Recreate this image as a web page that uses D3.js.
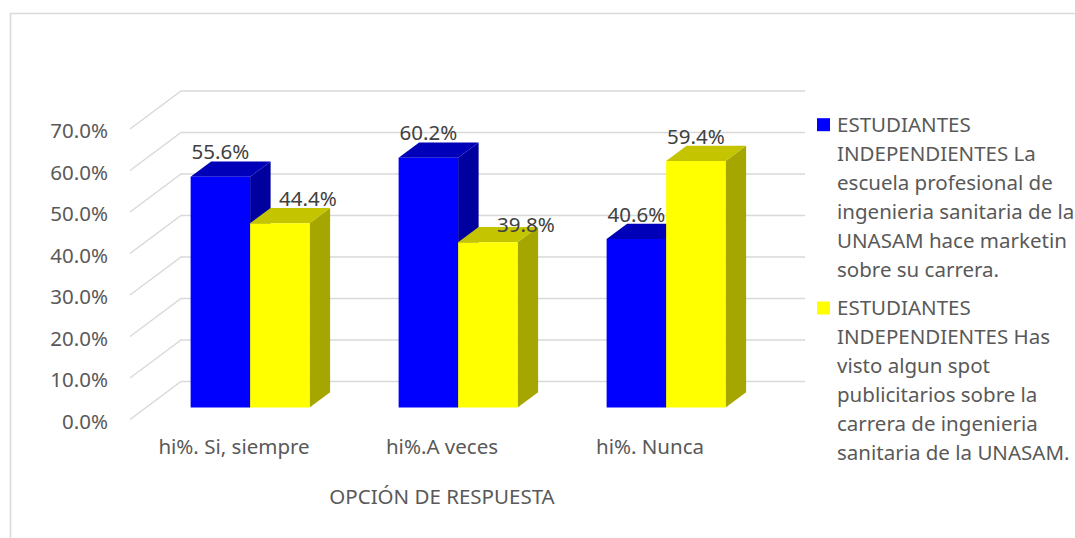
<!DOCTYPE html>
<html>
<head>
<meta charset="utf-8">
<script src="https://cdn.jsdelivr.net/npm/d3@7"></script>
<style>
  html, body { margin: 0; padding: 0; background: #fff; }
  svg { display: block; }
</style>
</head>
<body>
<svg id="chart" width="1075" height="538"></svg>
<script>
// ---------- data ----------
const categories = ["hi%. Si, siempre", "hi%.A veces", "hi%. Nunca"];
const seriesNames = [
  "ESTUDIANTES INDEPENDIENTES La escuela profesional de ingenieria sanitaria de la UNASAM hace marketin sobre su carrera.",
  "ESTUDIANTES INDEPENDIENTES Has visto algun spot publicitarios sobre la carrera de ingenieria sanitaria de la UNASAM."
];
const legendLines = [
  ["ESTUDIANTES", "INDEPENDIENTES La", "escuela profesional de", "ingenieria sanitaria de la", "UNASAM hace marketin", "sobre su carrera."],
  ["ESTUDIANTES", "INDEPENDIENTES Has", "visto algun spot", "publicitarios sobre la", "carrera de ingenieria", "sanitaria de la UNASAM."]
];
const marketingValues = [0.556, 0.602, 0.406];
const spotValues = [0.444, 0.398, 0.594];
const yTicks = [0, 0.1, 0.2, 0.3, 0.4, 0.5, 0.6, 0.7];
const axisTitle = "OPCIÓN DE RESPUESTA";

// ---------- layout / style ----------
const FONT = "Noto Sans";
const FS = 20.5;
const TEXT = "#595959";
const GRID = "#d9d9d9";
const faceColors = [
  { front: "#0000ff", top: "#0000b8", side: "#00009e" },
  { front: "#ffff00", top: "#c4c400", side: "#a6a600" }
];
const labelNudge = [[[0, 0], [28, 0]], [[0, 0], [38, 7]], [[0, 0], [0, 0]]];

const floorY = 419.5;       // front floor y
const DX = 51, DY = 38;     // full depth offset
const zFront = 0.316, zBack = 0.718;

const svg = d3.select("#chart");

// chart border
svg.append("rect")
  .attr("x", 10.5).attr("y", 13.5).attr("width", 1100).attr("height", 600)
  .attr("fill", "none").attr("stroke", GRID).attr("stroke-width", 1.5);

const x = d3.scaleBand().domain(categories).range([130, 754]).padding(0);
const x1 = d3.scaleBand().domain([0, 1]).range([0, x.bandwidth()]).paddingInner(0).paddingOuter(0.748);
const h = d3.scaleLinear().domain([0, 0.7]).range([0, 290.5]);
const yFront = d3.scaleLinear().domain([0, 0.7]).range([floorY, floorY - 290.5]);

function P(xf, v, z) { return [xf + z * DX, floorY - h(v) - z * DY]; }

// gridlines (side wall diagonals + back wall)
const grid = svg.append("g").attr("stroke", GRID).attr("stroke-width", 1.5).attr("fill", "none");
yTicks.forEach(t => {
  const a = P(x.range()[0], t, 0), b = P(x.range()[0], t, 1), c = P(x.range()[1], t, 1);
  grid.append("polyline").attr("points", [a, b, c].map(p => p.join(",")).join(" "));
});

// bars
const series = [marketingValues, spotValues];
const poly = pts => pts.map(p => p.join(",")).join(" ");
categories.forEach((cat, ci) => {
  series.forEach((vals, si) => {
    const v = vals[ci];
    const x0 = x(cat) + x1(si), xr = x0 + x1.bandwidth();
    const col = faceColors[si];
    const g = svg.append("g");
    g.append("polygon").attr("points", poly([P(xr, 0, zFront), P(xr, v, zFront), P(xr, v, zBack), P(xr, 0, zBack)]))
      .attr("fill", col.side);
    g.append("polygon").attr("points", poly([P(x0, v, zFront), P(xr, v, zFront), P(xr, v, zBack), P(x0, v, zBack)]))
      .attr("fill", col.top);
    g.append("polygon").attr("points", poly([P(x0, 0, zFront), P(xr, 0, zFront), P(xr, v, zFront), P(x0, v, zFront)]))
      .attr("fill", col.front);
  });
});

// data labels
categories.forEach((cat, ci) => {
  series.forEach((vals, si) => {
    const v = vals[ci];
    const xc = x(cat) + x1(si) + x1.bandwidth() / 2;
    const front = P(xc, v, zFront), back = P(xc, v, zBack);
    const n = labelNudge[ci][si];
    svg.append("text")
      .attr("x", front[0] + n[0]).attr("y", back[1] - 2 + n[1])
      .attr("text-anchor", "middle")
      .attr("font-family", FONT).attr("font-size", FS).attr("fill", "#404040")
      .text(d3.format(".1%")(v));
  });
});

// y axis labels
const yAxis = svg.append("g").attr("transform", "translate(130,0)")
  .call(d3.axisLeft(yFront).tickValues(yTicks).tickFormat(d3.format(".1%")).tickSize(0).tickPadding(22));
yAxis.select(".domain").remove();
yAxis.selectAll("text").attr("font-family", FONT).attr("font-size", FS).attr("fill", TEXT).attr("dy", "0.42em");

// x axis labels
const xAxis = svg.append("g").attr("transform", `translate(0,${floorY})`)
  .call(d3.axisBottom(x).tickSize(0).tickPadding(20));
xAxis.select(".domain").remove();
xAxis.selectAll("text").attr("font-family", FONT).attr("font-size", FS).attr("fill", TEXT);

// axis title
svg.append("text").attr("x", (x.range()[0] + x.range()[1]) / 2).attr("y", 504)
  .attr("text-anchor", "middle").attr("font-family", FONT).attr("font-size", FS).attr("fill", TEXT)
  .text(axisTitle);

// legend
const legendTop = [131.7, 315];
legendLines.forEach((lines, si) => {
  const g = svg.append("g");
  g.append("rect").attr("x", 817).attr("y", legendTop[si] - 13.5).attr("width", 13).attr("height", 13)
    .attr("fill", faceColors[si].front);
  lines.forEach((ln, li) => {
    g.append("text").attr("x", 837).attr("y", legendTop[si] + li * 29)
      .attr("font-family", FONT).attr("font-size", FS).attr("fill", TEXT).text(ln);
  });
});
</script>
</body>
</html>
